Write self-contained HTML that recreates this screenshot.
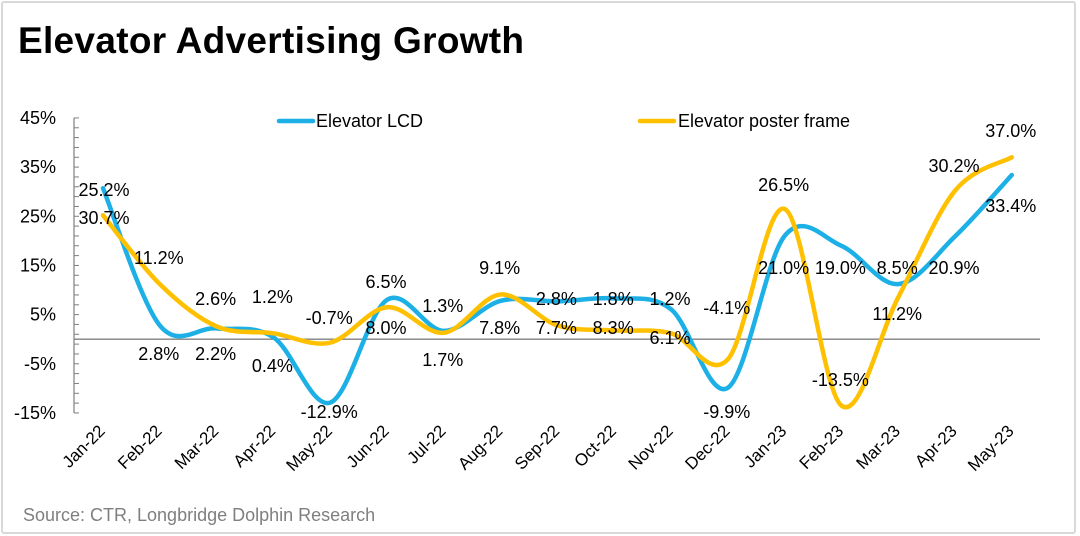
<!DOCTYPE html>
<html><head><meta charset="utf-8"><style>
body{margin:0;width:1080px;height:536px;background:#fff;overflow:hidden;font-family:"Liberation Sans","DejaVu Sans",sans-serif}
#frame{position:absolute;left:1px;top:1px;width:1071px;height:529px;border:2px solid #d9d9d9;border-radius:3px}
#title{position:absolute;left:18px;top:20px;font-size:37px;font-weight:bold;color:#000;letter-spacing:0.3px}
#source{position:absolute;left:23px;top:505px;font-size:18px;color:#7f7f7f}
svg{position:absolute;left:0;top:0}
</style></head><body>
<div id="frame"></div>
<div id="title">Elevator Advertising Growth</div>
<div id="source">Source: CTR, Longbridge Dolphin Research</div>
<svg id="chart" width="1080" height="536"></svg>
<script>
const categories=["Jan-22","Feb-22","Mar-22","Apr-22","May-22","Jun-22","Jul-22","Aug-22","Sep-22","Oct-22","Nov-22","Dec-22","Jan-23","Feb-23","Mar-23","Apr-23","May-23"];
const lcdValues=[30.7,2.8,2.2,0.4,-12.9,8.0,1.7,7.8,7.7,8.3,6.1,-9.9,21.0,19.0,11.2,20.9,33.4];
const posterValues=[25.2,11.2,2.6,1.2,-0.7,6.5,1.3,9.1,2.8,1.8,1.2,-4.1,26.5,-13.5,8.5,30.2,37.0];
const yTicks=[45,35,25,15,5,-5,-15];
const topLabels=["25.2%","11.2%","2.6%","1.2%","-0.7%","6.5%","1.3%","9.1%","2.8%","1.8%","1.2%","-4.1%","26.5%","19.0%","8.5%","30.2%","37.0%"];
const bottomLabels=["30.7%","2.8%","2.2%","0.4%","-12.9%","8.0%","1.7%","7.8%","7.7%","8.3%","6.1%","-9.9%","21.0%","-13.5%","11.2%","20.9%","33.4%"];
// label layout (pixel y of label centers)
const topLabelY=[190,258,299,297,318,282,306,268,299,299,299,308,185,268,268,166,131];
const bottomLabelY=[218,354,354,366,412,328,360,328,328,328,338,412,268,380,314,268,206];

const svg=document.getElementById('chart');
const NS='http://www.w3.org/2000/svg';
const x0=103,dx=56.8,axisX=74;
const yScale=v=>339.2-v*4.917;
const xScale=i=>x0+i*dx;
function mk(t,a){const e=document.createElementNS(NS,t);for(const k in a)e.setAttribute(k,a[k]);svg.appendChild(e);return e;}

let e=mk('line',{x1:axisX,y1:yScale(45),x2:axisX,y2:yScale(-15),stroke:'#7f7f7f','stroke-width':1.2});


for(let v=-15;v<=45;v+=2){
  const t=mk('line',{x1:axisX,y1:yScale(v),x2:axisX+5,y2:yScale(v),stroke:'#7f7f7f','stroke-width':1});
  
  
}
yTicks.forEach(v=>{
  const t=mk('text',{x:56,y:yScale(v)+6,'text-anchor':'end','font-size':18,fill:'#000'});
  t.textContent=v+'%';
  
  
});
e=mk('line',{x1:axisX,y1:yScale(0),x2:1040,y2:yScale(0),stroke:'#808080','stroke-width':1.3});


categories.forEach((c,i)=>{
  const x=xScale(i)+3,y=432;
  const t=mk('text',{x:x,y:y,'text-anchor':'end','font-size':17,fill:'#000',transform:`rotate(-45 ${x} ${y})`});
  t.textContent=c;
  
  
});
function smooth(vals){
  const p=vals.map((v,i)=>[xScale(i),yScale(v)]);
  let d=`M${p[0][0]},${p[0][1]}`;
  for(let i=0;i<p.length-1;i++){
    const a=p[Math.max(0,i-1)],b=p[i],c=p[i+1],n=p[Math.min(p.length-1,i+2)];
    const c1=[b[0]+(c[0]-a[0])/6,b[1]+(c[1]-a[1])/6],c2=[c[0]-(n[0]-b[0])/6,c[1]-(n[1]-b[1])/6];
    d+=`C${c1[0]},${c1[1]} ${c2[0]},${c2[1]} ${c[0]},${c[1]}`;
  }
  return d;
}
e=mk('path',{d:smooth(lcdValues),fill:'none',stroke:'#1cb0e6','stroke-width':4.5,'stroke-linecap':'round'});


e=mk('path',{d:smooth(posterValues),fill:'none',stroke:'#ffc000','stroke-width':4.5,'stroke-linecap':'round'});


categories.forEach((c,i)=>{
  const x=i===0?xScale(i)+1:xScale(i)-1;
  let t=mk('text',{x:x,y:topLabelY[i]+6,'text-anchor':'middle','font-size':18,fill:'#000'});
  t.textContent=topLabels[i];
  
  
  t=mk('text',{x:x,y:bottomLabelY[i]+6,'text-anchor':'middle','font-size':18,fill:'#000'});
  t.textContent=bottomLabels[i];
  
  
});
e=mk('line',{x1:279,y1:121,x2:313,y2:121,stroke:'#1cb0e6','stroke-width':4.5,'stroke-linecap':'round'});


e=mk('text',{x:316,y:127,'font-size':18,fill:'#000'});e.textContent='Elevator LCD';


e=mk('line',{x1:640,y1:121,x2:674,y2:121,stroke:'#ffc000','stroke-width':4.5,'stroke-linecap':'round'});


e=mk('text',{x:678,y:127,'font-size':18,fill:'#000'});e.textContent='Elevator poster frame';


</script>
</body></html>
